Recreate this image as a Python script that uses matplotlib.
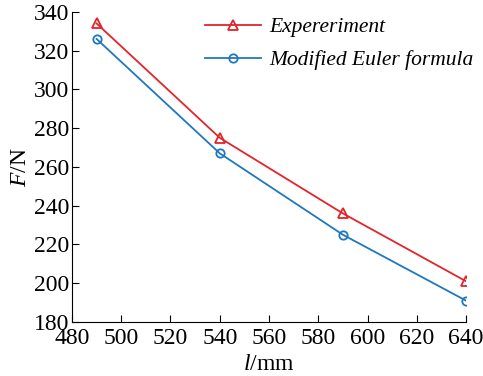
import matplotlib
matplotlib.use("Agg")
import matplotlib.pyplot as plt

# 데이터
length = [490, 540, 590, 640]
force_exp = [334, 275, 236, 201]
force_euler = [326, 267, 225, 191]

plt.rcParams["font.family"] = ["Liberation Serif", "DejaVu Serif"]
plt.rcParams["mathtext.fontset"] = "custom"
plt.rcParams["mathtext.it"] = "Liberation Serif:italic"
plt.rcParams["mathtext.rm"] = "Liberation Serif"

fig = plt.figure(figsize=(4.83, 3.76), dpi=100)
ax = fig.add_axes([0.149, 0.1436, 0.816, 0.825])

ax.plot(length, force_exp, color="#e3242b", marker="^", markersize=7,
        markerfacecolor="none", markeredgewidth=1.3, linewidth=1.3, label="Expereriment")
ax.plot(length, force_euler, color="#1f77c0", marker="o", markersize=6,
        markerfacecolor="none", markeredgewidth=1.3, linewidth=1.3, label="Modified Euler formula")

ax.set_xlim(480, 640)
ax.set_ylim(180, 340)
ax.set_xticks(range(480, 641, 20))
ax.set_yticks(range(180, 341, 20))
ax.tick_params(direction="in", labelsize=17, length=5)
ax.tick_params(axis="x", pad=4)
ax.tick_params(axis="y", pad=2)
ax.spines["top"].set_visible(False)
ax.spines["right"].set_visible(False)

ax.set_xlabel("$l$/mm", fontsize=17, labelpad=4)
ax.set_ylabel("$F$/N", fontsize=17, labelpad=2)

leg = ax.legend(loc="upper right", frameon=False, prop={"style": "italic", "size": 15.5},
                handlelength=2.6, handletextpad=0.35, borderaxespad=0.0,
                labelspacing=0.6, bbox_to_anchor=(1.04, 1.01))

plt.savefig("out.png", dpi=100)
